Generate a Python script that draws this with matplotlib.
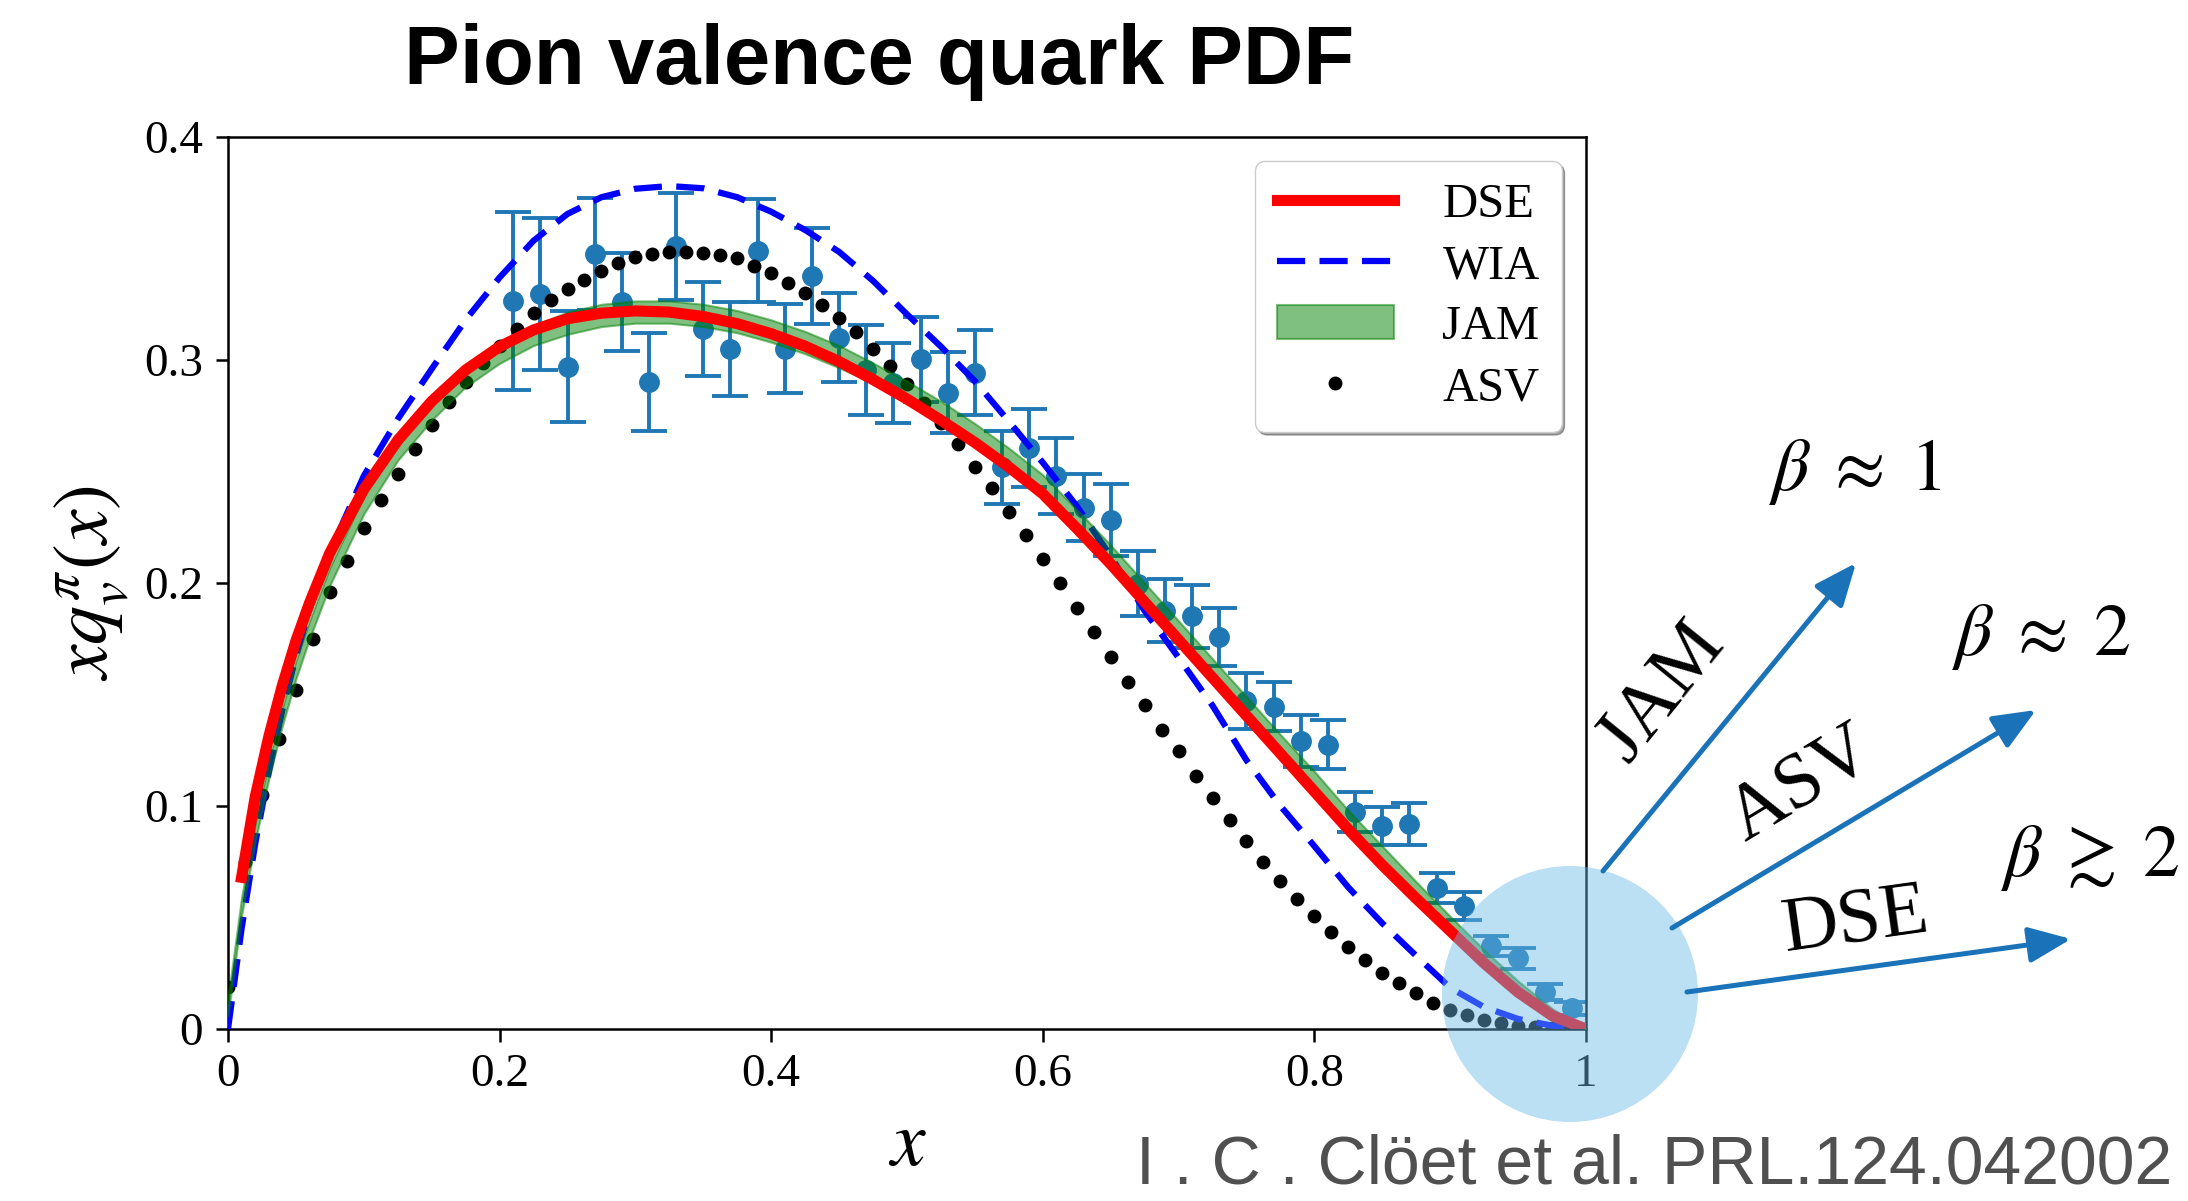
import numpy as np
import matplotlib
matplotlib.use("Agg")
import matplotlib.pyplot as plt
from matplotlib.patches import Ellipse, FancyArrowPatch

# pion valence PDF: data points (x, x q_v, error)
pion_x = [0.21, 0.23, 0.25, 0.27, 0.29, 0.31, 0.33, 0.35, 0.37, 0.39,
          0.41, 0.43, 0.45, 0.47, 0.49, 0.51, 0.53, 0.55, 0.57, 0.59,
          0.61, 0.63, 0.65, 0.67, 0.69, 0.71, 0.73, 0.75, 0.77, 0.79,
          0.81, 0.83, 0.85, 0.87, 0.89, 0.91, 0.93, 0.95, 0.97, 0.99]
pion_y = [0.3265, 0.3295, 0.297, 0.3475, 0.326, 0.290, 0.351, 0.314, 0.305, 0.349,
          0.305, 0.3377, 0.310, 0.2955, 0.2897, 0.3003, 0.2854, 0.2943, 0.2518, 0.2605,
          0.248, 0.2338, 0.2283, 0.1996, 0.1876, 0.185, 0.176, 0.147, 0.1446, 0.1291,
          0.1275, 0.0975, 0.0912, 0.0919, 0.0631, 0.0552, 0.0372, 0.0317, 0.0167, 0.0093]
pion_err = [0.040, 0.034, 0.025, 0.025, 0.022, 0.022, 0.024, 0.021, 0.021, 0.023,
            0.020, 0.0215, 0.020, 0.020, 0.018, 0.019, 0.018, 0.019, 0.0165, 0.0175,
            0.017, 0.015, 0.016, 0.0146, 0.014, 0.014, 0.013, 0.0125, 0.011, 0.0115,
            0.011, 0.009, 0.0085, 0.0093, 0.0067, 0.0064, 0.0045, 0.0048, 0.0035, 0.003]

# model curves, read on a common x grid
curve_x = [0.0, 0.01, 0.02, 0.03, 0.04, 0.05, 0.06, 0.075,
           0.1, 0.125, 0.15, 0.175, 0.2, 0.225, 0.25, 0.275, 0.3, 0.325,
           0.35, 0.375, 0.4, 0.425, 0.45, 0.475, 0.5, 0.525, 0.55, 0.575,
           0.6, 0.625, 0.65, 0.675, 0.7, 0.725, 0.75, 0.775, 0.8, 0.825,
           0.85, 0.875, 0.9, 0.925, 0.95, 0.975, 1.0]
dse_y = [np.nan, 0.068, 0.104, 0.131, 0.154, 0.174, 0.191, 0.2135,
         0.242, 0.264, 0.2815, 0.2955, 0.306, 0.3135, 0.3185, 0.321, 0.322, 0.3215,
         0.3195, 0.3163, 0.3118, 0.3062, 0.2993, 0.2912, 0.2825, 0.2730, 0.2630, 0.2520,
         0.2400, 0.2245, 0.2085, 0.1915, 0.1745, 0.1575, 0.1405, 0.1235, 0.1065, 0.0895,
         0.0735, 0.0585, 0.0440, 0.0295, 0.0165, 0.0060, 0.0]
wia_y = [0.0, 0.045, 0.083, 0.115, 0.143, 0.167, 0.188, 0.214,
         0.248, 0.2735, 0.296, 0.318, 0.337, 0.3535, 0.3655, 0.373, 0.3768, 0.378,
         0.377, 0.373, 0.3665, 0.3583, 0.3485, 0.3355, 0.3205, 0.306, 0.2905, 0.2725,
         0.254, 0.2345, 0.212, 0.1875, 0.1665, 0.145, 0.1205, 0.100, 0.082, 0.0635,
         0.0474, 0.0328, 0.0185, 0.0098, 0.0045, 0.0015, 0.0]
jam_lo = [0.006, 0.051, 0.084, 0.112, 0.136, 0.157, 0.175, 0.199,
          0.231, 0.255, 0.273, 0.288, 0.2985, 0.3065, 0.3115, 0.315, 0.3165, 0.3165,
          0.315, 0.3122, 0.308, 0.3028, 0.2965, 0.2897, 0.2815, 0.2725, 0.2625, 0.2515,
          0.2395, 0.224, 0.208, 0.191, 0.174, 0.157, 0.140, 0.123, 0.1065, 0.090,
          0.074, 0.059, 0.0445, 0.0305, 0.0175, 0.0068, 0.0]
jam_hi = [0.014, 0.059, 0.092, 0.120, 0.144, 0.165, 0.183, 0.207,
          0.239, 0.263, 0.281, 0.296, 0.3075, 0.3155, 0.3215, 0.325, 0.3265, 0.3265,
          0.325, 0.3222, 0.318, 0.3128, 0.3065, 0.2987, 0.2905, 0.2815, 0.2715, 0.2605,
          0.2485, 0.233, 0.217, 0.200, 0.183, 0.166, 0.149, 0.132, 0.1155, 0.098,
          0.082, 0.066, 0.0505, 0.0355, 0.0215, 0.0092, 0.0]

# ASV points (dots every 0.0125 in x)
asv_x = np.linspace(0, 1, 81)
asv_y = [0.019, 0.075, 0.105, 0.130, 0.152, 0.175, 0.196, 0.210, 0.2245, 0.237,
         0.249, 0.260, 0.271, 0.281, 0.290, 0.2985, 0.3065, 0.314, 0.321, 0.327,
         0.332, 0.336, 0.340, 0.3436, 0.346, 0.3475, 0.3486, 0.3486, 0.3478, 0.347,
         0.3456, 0.3423, 0.3389, 0.3346, 0.3299, 0.3247, 0.3187, 0.3124, 0.3051, 0.2975,
         0.2894, 0.2808, 0.2716, 0.2622, 0.2522, 0.2425, 0.2320, 0.2215, 0.2106, 0.1999,
         0.1890, 0.1779, 0.1670, 0.1558, 0.1452, 0.1342, 0.1245, 0.1135, 0.1035, 0.0937,
         0.0843, 0.0750, 0.0664, 0.0582, 0.0507, 0.0436, 0.0369, 0.0309, 0.0252, 0.0205,
         0.0160, 0.0118, 0.0085, 0.0063, 0.0040, 0.0025, 0.0015, 0.0008, 0.0003, 0.0001,
         0.0]

xtick_vals = [0, 0.2, 0.4, 0.6, 0.8, 1.0]
xtick_labels = ['0', '0.2', '0.4', '0.6', '0.8', '1']
ytick_vals = [0, 0.1, 0.2, 0.3, 0.4]
ytick_labels = ['0', '0.1', '0.2', '0.3', '0.4']

W, H = 2188, 1201


def fx(px):
    return px / W


def fy(py):
    return 1 - py / H


plt.rcParams['mathtext.fontset'] = 'stix'
plt.rcParams['font.family'] = ['Liberation Serif', 'DejaVu Serif']

fig = plt.figure(figsize=(W / 100, H / 100), dpi=100)
ax = fig.add_axes([fx(228), fy(1029), (1586 - 228) / W, (1029 - 137) / H])

ax.errorbar(pion_x, pion_y, yerr=pion_err, fmt='o', color='#1f77b4', ms=14,
            elinewidth=2.8, capsize=13, capthick=2.8, zorder=2)
asv, = ax.plot(asv_x, asv_y, 'o', color='black', ms=9, ls='none', zorder=3, label='ASV')
wia, = ax.plot(curve_x, wia_y, color='blue', lw=4.5, ls=(0, (4.5, 2.3)), zorder=3, label='WIA')
jam = ax.fill_between(curve_x, jam_lo, jam_hi, facecolor='green', edgecolor='green',
                      alpha=0.5, lw=1.5, zorder=4, label='JAM')
dse, = ax.plot(curve_x, dse_y, color='red', lw=8, zorder=5, label='DSE')

ax.set_xlim(0, 1)
ax.set_ylim(0, 0.4)
ax.set_xticks(xtick_vals)
ax.set_xticklabels(xtick_labels)
ax.set_yticks(ytick_vals)
ax.set_yticklabels(ytick_labels)
ax.tick_params(labelsize=34, length=9, width=1.8, pad=9)
for sp in ax.spines.values():
    sp.set_linewidth(1.8)

ax.set_xlabel(r'$x$', fontsize=56, labelpad=10)
ax.set_ylabel(r'$xq_v^{\pi}(x)$', fontsize=56, labelpad=10)

leg = ax.legend([dse, wia, jam, asv], ['DSE', 'WIA', 'JAM', 'ASV'], loc='upper right',
                fontsize=35, shadow=True, fancybox=True, framealpha=1,
                edgecolor='#cccccc', handlelength=2.4, labelspacing=0.35,
                handletextpad=1.0, borderpad=0.45)

# title
fig.text(fx(879), fy(62), 'Pion valence quark PDF', fontsize=60, fontweight='bold',
         family='Liberation Sans', ha='center', va='center')

# highlight of the x -> 1 region
circ = Ellipse((fx(1570), fy(994)), width=256 / W, height=256 / H,
               transform=fig.transFigure, facecolor='#6ab8e6', alpha=0.45,
               edgecolor='none', zorder=6)
fig.add_artist(circ)

arrow_col = '#1a72b8'
arrows = [((1603, 871), (1856, 563)),
          ((1672, 928), (2036, 710)),
          ((1687, 992), (2071, 939))]
for a, b in arrows:
    arr = FancyArrowPatch((fx(a[0]), fy(a[1])), (fx(b[0]), fy(b[1])),
                          transform=fig.transFigure,
                          arrowstyle='-|>,head_length=2.6,head_width=1.1',
                          mutation_scale=10, color=arrow_col, lw=3.6,
                          shrinkA=0, shrinkB=0, zorder=7)
    fig.add_artist(arr)

fig.text(fx(1662), fy(692), 'JAM', fontsize=56, rotation=51, ha='center', va='center',
         rotation_mode='anchor')
fig.text(fx(1802), fy(786), 'ASV', fontsize=56, rotation=31, ha='center', va='center',
         rotation_mode='anchor')
fig.text(fx(1856), fy(922), 'DSE', fontsize=56, rotation=8, ha='center', va='center',
         rotation_mode='anchor')

fig.text(fx(1855), fy(472), r'$\beta\;\approx\;1$', fontsize=53, ha='center', va='center')
fig.text(fx(2041), fy(637), r'$\beta\;\approx\;2$', fontsize=53, ha='center', va='center')
fig.text(fx(2090), fy(858), r'$\beta\;\gtrsim\;2$', fontsize=53, ha='center', va='center')

# reference
fig.text(fx(2172), fy(1166), 'I . C . Clöet et al. PRL.124.042002', ha='right', va='center',
         family='Liberation Sans', fontsize=49, color='#505050')

fig.savefig('out.png', dpi=100)
